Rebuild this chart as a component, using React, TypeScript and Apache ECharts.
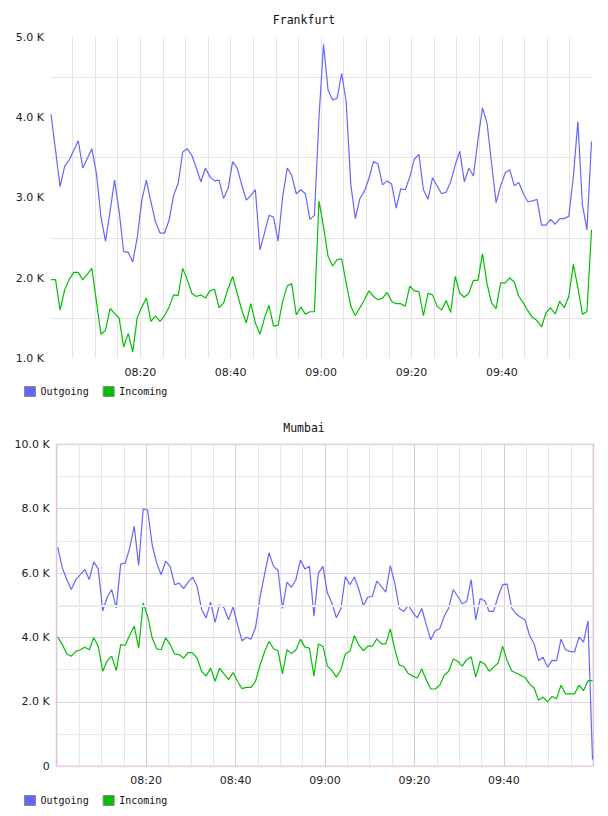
import { useEffect, useRef } from 'react';
import * as echarts from 'echarts';

// Sample clock: minutes since midnight, one sample roughly every minute
const START_MINUTE = 480.25;
const STEP_MINUTES = 1.0048;
const SAMPLE_COUNT = 120;
const sampleMinutes = Array.from({ length: SAMPLE_COUNT }, (_, i) => START_MINUTE + i * STEP_MINUTES);

const seriesNames = ['Outgoing', 'Incoming'];

const frankfurtOutgoing = [
  4040, 3590, 3140, 3390, 3470, 3590, 3710, 3370, 3490, 3610,
  3300, 2760, 2460, 2830, 3220, 2830, 2330, 2320, 2200, 2510,
  2970, 3220, 2950, 2700, 2560, 2560, 2720, 3030, 3180, 3570,
  3610, 3530, 3370, 3200, 3370, 3260, 3210, 3220, 2990, 3120,
  3450, 3370, 3160, 2970, 3030, 3100, 2350, 2560, 2780, 2760,
  2460, 3010, 3370, 3280, 3050, 3100, 3050, 2730, 2780, 4000,
  4910, 4340, 4220, 4240, 4550, 4190, 3170, 2740, 2990, 3080,
  3240, 3450, 3420, 3160, 3210, 3170, 2870, 3110, 3100, 3260,
  3480, 3540, 3100, 2980, 3250, 3150, 3050, 3070, 3200, 3410,
  3580, 3200, 3370, 3270, 3720, 4120, 3930, 3430, 2940, 3150,
  3310, 3350, 3150, 3190, 3050, 2950, 2960, 2980, 2660, 2660,
  2730, 2670, 2740, 2740, 2770, 3260, 3950, 2910, 2600, 3700,
];

const frankfurtIncoming = [
  1980, 1980, 1600, 1850, 1980, 2070, 2070, 1980, 2050, 2120,
  1710, 1300, 1350, 1620, 1560, 1500, 1140, 1310, 1080, 1510,
  1640, 1750, 1460, 1530, 1460, 1530, 1640, 1790, 1780, 2120,
  1980, 1810, 1770, 1790, 1750, 1840, 1860, 1630, 1690, 1870,
  2020, 1810, 1600, 1440, 1680, 1440, 1300, 1500, 1660, 1400,
  1410, 1710, 1900, 1930, 1540, 1640, 1550, 1580, 1580, 2960,
  2640, 2270, 2150, 2230, 2240, 1930, 1650, 1530, 1630, 1730,
  1840, 1770, 1730, 1750, 1820, 1710, 1680, 1680, 1650, 1900,
  1840, 1830, 1530, 1810, 1790, 1650, 1600, 1720, 1570, 2020,
  1810, 1760, 1810, 1970, 1970, 2300, 1930, 1690, 1620, 1940,
  1940, 2000, 1950, 1770, 1690, 1590, 1510, 1470, 1390, 1570,
  1630, 1550, 1710, 1630, 1770, 2170, 1880, 1550, 1580, 2600,
];

const mumbaiOutgoing = [
  6800, 6160, 5800, 5490, 5800, 5950, 6110, 5800, 6350, 6130,
  4830, 5250, 5490, 4920, 6280, 6310, 6780, 7450, 6240, 8000,
  7950, 6880, 6310, 5950, 6370, 6210, 5640, 5690, 5520, 5720,
  5870, 5590, 4870, 4610, 5100, 4470, 5020, 4920, 4550, 4950,
  4400, 3900, 4010, 3950, 4300, 5250, 5950, 6630, 6210, 6090,
  4900, 5720, 5560, 5800, 6410, 6130, 6210, 4660, 6000, 6210,
  5380, 5070, 4610, 4900, 5890, 5640, 5880, 5490, 4990, 5250,
  5280, 5750, 5590, 5410, 6230, 5690, 4900, 4810, 5000, 4780,
  4610, 4900, 4400, 3930, 4210, 4270, 4660, 4920, 5490, 5280,
  5050, 5120, 5800, 4550, 5210, 5140, 4810, 4810, 5280, 5640,
  5660, 4920, 4730, 4630, 4550, 4060, 3800, 3280, 3390, 3080,
  3290, 3280, 3950, 3620, 3570, 3550, 4010, 3860, 4520, 210,
];

const mumbaiIncoming = [
  4010, 3780, 3490, 3420, 3570, 3620, 3700, 3620, 3990, 3730,
  2950, 3280, 3420, 2970, 3780, 3760, 4070, 4350, 3670, 5070,
  4660, 3990, 3650, 3620, 3990, 3780, 3490, 3470, 3360, 3540,
  3520, 3360, 2950, 2800, 3050, 2640, 3050, 2870, 2690, 2910,
  2640, 2410, 2450, 2450, 2640, 3140, 3550, 3880, 3650, 3590,
  2870, 3620, 3500, 3620, 3950, 3700, 3670, 2800, 3800, 3730,
  3110, 2980, 2770, 3000, 3490, 3570, 4060, 3760, 3590, 3730,
  3730, 3960, 3800, 3800, 4270, 3640, 3140, 3100, 2880, 2800,
  2740, 3020, 2690, 2400, 2400, 2520, 2830, 2950, 3330, 3260,
  3110, 3310, 3400, 2770, 3260, 3180, 2950, 3080, 3210, 3730,
  3280, 2970, 2900, 2830, 2760, 2560, 2430, 2050, 2150, 2000,
  2170, 2100, 2520, 2250, 2250, 2250, 2520, 2350, 2660, 2660,
];

// Tick labels
const timeTickMinutes = [500, 520, 540, 560, 580];
const timeTickLabels = ['08:20', '08:40', '09:00', '09:20', '09:40'];
const frankfurtTickValues = [1000, 2000, 3000, 4000, 5000];
const frankfurtTickLabels = ['1.0 K', '2.0 K', '3.0 K', '4.0 K', '5.0 K'];
const mumbaiTickValues = [0, 2000, 4000, 6000, 8000, 10000];
const mumbaiTickLabels = ['0', '2.0 K', '4.0 K', '6.0 K', '8.0 K', '10.0 K'];

const OUT_COLOR = '#6666ff';
const IN_COLOR = '#00c000';
const LABEL_FONT = 'DejaVu Sans';
const MONO_FONT = 'DejaVu Sans Mono';

const pickLabel = (values: number[], labels: string[]) => (v: number) => {
  const k = values.findIndex((m) => Math.abs(m - v) < 1e-6);
  return k >= 0 ? labels[k] : '';
};

const pairs = (values: number[]) => sampleMinutes.map((t, i) => [t, values[i]]);

const axisText = { fontFamily: LABEL_FONT, fontSize: 11, color: '#222' };

function lineSeries(name: string, values: number[], color: string, axis: number) {
  return {
    name,
    type: 'line',
    xAxisIndex: axis,
    yAxisIndex: axis,
    data: pairs(values),
    showSymbol: false,
    symbol: 'none',
    lineStyle: { width: 1.2, color },
    itemStyle: { color },
    z: 3,
  };
}

function legendAt(top: number) {
  return {
    data: seriesNames,
    left: 24,
    top,
    padding: 0,
    itemWidth: 11,
    itemHeight: 10,
    itemGap: 14,
    icon: 'rect',
    selectedMode: false,
    itemStyle: { borderColor: '#8a8a8a', borderWidth: 1 },
    textStyle: { fontFamily: MONO_FONT, fontSize: 10, color: '#111' },
  };
}

export default function App() {
  const ref = useRef<HTMLDivElement>(null);

  useEffect(() => {
    const chart = echarts.init(ref.current!, null, { renderer: 'svg' });
    chart.setOption({
      animation: false,
      backgroundColor: '#ffffff',
      title: [
        {
          text: 'Frankfurt',
          left: 'center',
          top: 14,
          padding: 0,
          textStyle: { fontFamily: MONO_FONT, fontSize: 11.5, fontWeight: 'normal', color: '#111' },
        },
        {
          text: 'Mumbai',
          left: 'center',
          top: 422,
          padding: 0,
          textStyle: { fontFamily: MONO_FONT, fontSize: 11.5, fontWeight: 'normal', color: '#111' },
        },
      ],
      legend: [legendAt(386), legendAt(795)],
      grid: [
        { left: 51, top: 37.2, width: 541.3, height: 321.1, show: false },
        {
          left: 56.7,
          top: 444.3,
          width: 536.6,
          height: 322,
          show: true,
          backgroundColor: 'transparent',
          borderColor: '#eddded',
          borderWidth: 2,
        },
      ],
      xAxis: [
        {
          gridIndex: 0,
          type: 'value',
          min: START_MINUTE,
          max: 600,
          minInterval: 5,
          maxInterval: 5,
          splitNumber: 24,
          axisLine: { show: false },
          axisTick: { show: false },
          axisLabel: {
            ...axisText,
            margin: 9,
            showMinLabel: false,
            showMaxLabel: false,
            formatter: pickLabel(timeTickMinutes, timeTickLabels),
          },
          splitLine: {
            show: true,
            showMinLine: false,
            showMaxLine: false,
            lineStyle: { color: '#e3e3e3', width: 1 },
          },
        },
        {
          gridIndex: 1,
          type: 'value',
          min: 480,
          max: 600,
          interval: 5,
          axisLine: { show: false },
          axisTick: { show: false },
          axisLabel: {
            ...axisText,
            margin: 9,
            formatter: pickLabel(timeTickMinutes, timeTickLabels),
          },
          splitLine: {
            show: true,
            lineStyle: { color: ['#dcc6dc', '#e6e6e6', '#e6e6e6', '#e6e6e6'], width: 1 },
          },
        },
      ],
      yAxis: [
        {
          gridIndex: 0,
          type: 'value',
          min: 1000,
          max: 5000,
          interval: 500,
          axisLine: { show: false },
          axisTick: { show: false },
          axisLabel: { ...axisText, margin: 7, formatter: pickLabel(frankfurtTickValues, frankfurtTickLabels) },
          splitLine: { show: true, lineStyle: { color: ['rgba(0,0,0,0)', '#e3e3e3'], width: 1 } },
        },
        {
          gridIndex: 1,
          type: 'value',
          min: 0,
          max: 10000,
          interval: 1000,
          axisLine: { show: false },
          axisTick: { show: false },
          axisLabel: { ...axisText, margin: 7, formatter: pickLabel(mumbaiTickValues, mumbaiTickLabels) },
          splitLine: { show: true, lineStyle: { color: ['#e6d0e6', '#e8e8e8'], width: 1 } },
        },
      ],
      series: [
        lineSeries('Outgoing', frankfurtOutgoing, OUT_COLOR, 0),
        lineSeries('Incoming', frankfurtIncoming, IN_COLOR, 0),
        lineSeries('Outgoing', mumbaiOutgoing, OUT_COLOR, 1),
        lineSeries('Incoming', mumbaiIncoming, IN_COLOR, 1),
        {
          type: 'line',
          xAxisIndex: 1,
          yAxisIndex: 1,
          data: [],
          silent: true,
          z: 1,
          markLine: {
            silent: true,
            symbol: ['none', 'none'],
            label: { show: false },
            lineStyle: { color: '#ececec', width: 2, type: 'solid' },
            data: [{ yAxis: 5000 }],
          },
        },
      ],
    });
    return () => chart.dispose();
  }, []);

  return (
    <div
      ref={ref}
      style={{ position: 'fixed', left: 0, top: 0, width: 608, height: 816, background: '#fff' }}
    />
  );
}
